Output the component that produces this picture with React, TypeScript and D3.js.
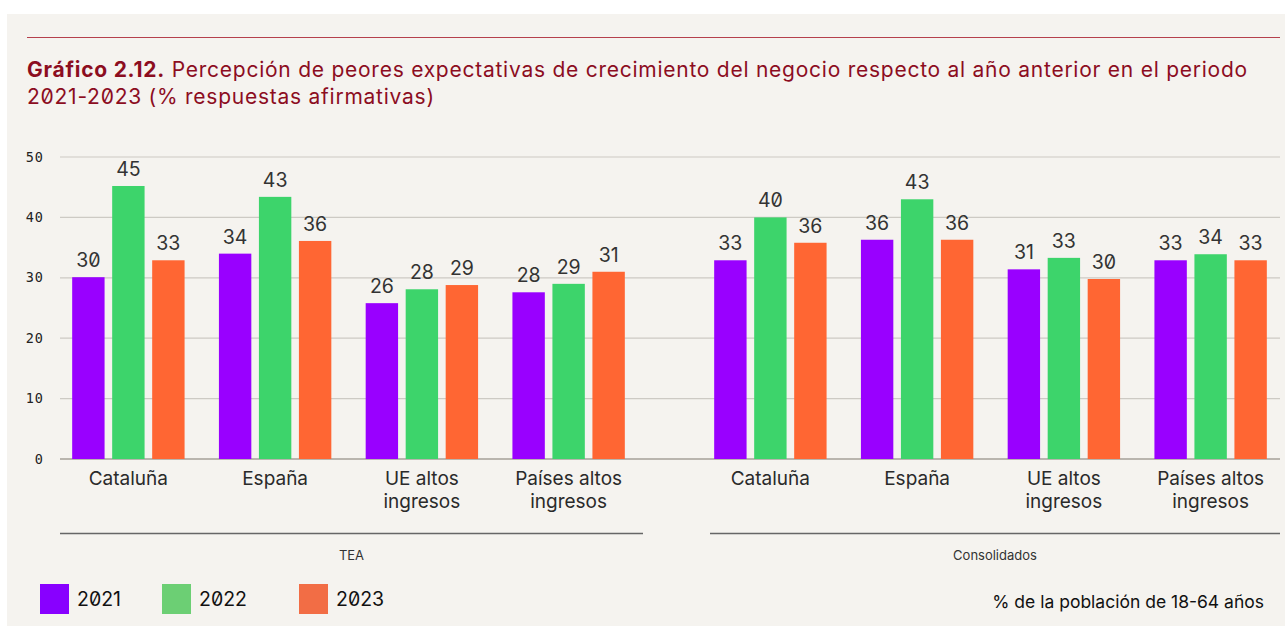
import React from "react";
import * as d3 from "d3";

const groups = ["TEA", "Consolidados"];
const categories = ["Cataluña", "España", "UE altos ingresos", "Países altos ingresos"];
const categoryLines = [["Cataluña"], ["España"], ["UE altos", "ingresos"], ["Países altos", "ingresos"]];
const years = ["2021", "2022", "2023"];
const teaValues = [
  [30.1, 45.2, 32.9],
  [34.0, 43.4, 36.1],
  [25.8, 28.1, 28.8],
  [27.6, 29.0, 31.0],
];
const consValues = [
  [32.9, 40.0, 35.8],
  [36.3, 43.0, 36.3],
  [31.4, 33.3, 29.8],
  [32.9, 33.9, 32.9],
];
const yTicks = [0, 10, 20, 30, 40, 50];
const barColors = ["#9900ff", "#3dd46b", "#ff6633"];
const legendColors = ["#8800ff", "#6ccf74", "#f26d45"];

const W = 1285;
const H = 626;
const numFont = "Inter, 'Noto Sans', sans-serif";
const txtFont = "Inter, Roboto, sans-serif";

export default function App() {
  const y = d3.scaleLinear().domain([0, 50]).range([459, 157]);
  const panels = [
    { name: groups[0], values: teaValues, range: [55, 642] as [number, number], line: [60, 643] },
    { name: groups[1], values: consValues, range: [697, 1284] as [number, number], line: [710, 1280] },
  ];
  const inner = d3.scaleBand<string>().domain(years).range([-56.2, 56.2]).paddingInner(0.19).paddingOuter(0);

  return (
    <svg width={W} height={H} style={{ display: "block", position: "absolute", left: 0, top: 0 }}>
      <rect x={0} y={0} width={W} height={H} fill="#ffffff" />
      <rect x={7} y={14} width={W - 7} height={H - 14} fill="#f5f3ef" />
      <line x1={27} x2={1280} y1={37.5} y2={37.5} stroke="#b5404c" strokeWidth={1.2} />
      <text x={27} y={77} fill="#8c0d1f" fontFamily={txtFont} fontSize={21} letterSpacing={0.75}>
        <tspan fontWeight={700}>Gráfico 2.12.</tspan>
        <tspan> Percepción de peores expectativas de crecimiento del negocio respecto al año anterior en el periodo</tspan>
      </text>
      <text
        x={27}
        y={104}
        fill="#8c0d1f"
        fontFamily={txtFont}
        fontSize={21}
        letterSpacing={0.75}
        style={{ fontFeatureSettings: "'zero'" }}
      >
        <tspan>2021-2023</tspan>
        <tspan> (% respuestas afirmativas)</tspan>
      </text>

      {yTicks.map((t) => (
        <g key={t}>
          <line
            x1={60}
            x2={1280}
            y1={y(t)}
            y2={y(t)}
            stroke={t === 0 ? "#b9b5ae" : "#cdcac4"}
            strokeWidth={t === 0 ? 2 : 1.2}
          />
          <text
            x={44}
            y={y(t) + 4.5}
            textAnchor="end"
            fontFamily="'DejaVu Sans Mono', monospace"
            fontSize={13.5}
            letterSpacing={1}
            fill="#222"
          >
            {t}
          </text>
        </g>
      ))}

      {panels.map((p) => {
        const x = d3.scaleBand<string>().domain(categories).range(p.range).padding(0);
        return (
          <g key={p.name}>
            {categories.map((c, ci) => {
              const cx = (x(c) as number) + x.bandwidth() / 2;
              return (
                <g key={c}>
                  {years.map((yr, yi) => {
                    const v = p.values[ci][yi];
                    const bx = cx + (inner(yr) as number);
                    return (
                      <g key={yr}>
                        <rect x={bx} y={y(v)} width={inner.bandwidth()} height={y(0) - y(v)} fill={barColors[yi]} />
                        <text
                          x={bx + inner.bandwidth() / 2}
                          y={y(v) - 10}
                          textAnchor="middle"
                          fontFamily={numFont}
                          fontSize={19.5}
                          fill="#333"
                          style={{ fontFeatureSettings: "'zero'" }}
                        >
                          {Math.round(v)}
                        </text>
                      </g>
                    );
                  })}
                  {categoryLines[ci].map((ln, li) => (
                    <text
                      key={li}
                      x={cx}
                      y={485 + li * 23}
                      textAnchor="middle"
                      fontFamily={txtFont}
                      fontSize={19}
                      fill="#2a2a2a"
                    >
                      {ln}
                    </text>
                  ))}
                </g>
              );
            })}
            <line x1={p.line[0]} x2={p.line[1]} y1={533.5} y2={533.5} stroke="#666" strokeWidth={1.5} />
            <text
              x={(p.line[0] + p.line[1]) / 2}
              y={560}
              textAnchor="middle"
              fontFamily={txtFont}
              fontSize={13}
              fill="#333"
            >
              {p.name}
            </text>
          </g>
        );
      })}

      {years.map((yr, i) => {
        const lx = [40, 162, 299][i];
        return (
          <g key={yr}>
            <rect x={lx} y={584} width={29} height={30} fill={legendColors[i]} />
            <text
              x={lx + 37}
              y={606}
              fontFamily={numFont}
              fontSize={19.5}
              fill="#111"
              style={{ fontFeatureSettings: "'zero'" }}
            >
              {yr}
            </text>
          </g>
        );
      })}
      <text x={1264} y={608} textAnchor="end" fontFamily={txtFont} fontSize={17.5} fill="#111">
        % de la población de 18-64 años
      </text>
    </svg>
  );
}
